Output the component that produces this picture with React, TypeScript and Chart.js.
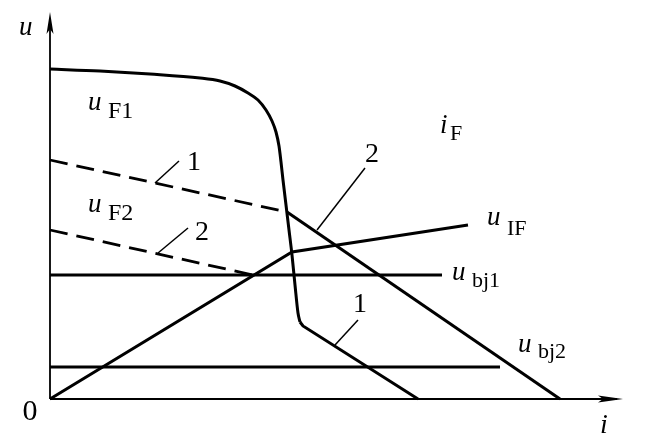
import React, { useEffect, useRef } from "react";
import { Chart, registerables } from "chart.js";

Chart.register(...registerables);

// Data in arbitrary units: i (current) on x, u (voltage) on y
const uF1Curve = [
  { x: 0, y: 330 }, { x: 50, y: 328 }, { x: 100, y: 325 }, { x: 150, y: 321 },
  { x: 170, y: 318 }, { x: 185, y: 313 }, { x: 198, y: 306 }, { x: 208, y: 299 },
  { x: 216, y: 289 }, { x: 222, y: 278 }, { x: 226, y: 267 }, { x: 229, y: 253 },
  { x: 231, y: 237 }, { x: 233, y: 219 }, { x: 236, y: 194 }, { x: 239, y: 169 },
  { x: 242, y: 144 }, { x: 245, y: 114 }, { x: 248, y: 86 }, { x: 250, y: 77 },
];
const uF1Tail = [{ x: 250, y: 77 }, { x: 253, y: 73 }, { x: 368, y: 0 }];
const uF2Dashed1 = [{ x: 0, y: 239 }, { x: 237, y: 187 }];
const uF2Dashed2 = [{ x: 0, y: 169 }, { x: 203, y: 124 }];
const load2 = [{ x: 237, y: 187 }, { x: 510, y: 0 }];
const uIF = [{ x: 0, y: 0 }, { x: 242, y: 147 }, { x: 418, y: 174 }];
const ubj1 = [{ x: 0, y: 124 }, { x: 392, y: 124 }];
const ubj2 = [{ x: 0, y: 32 }, { x: 450, y: 32 }];

const leaderLines = [
  [{ x: 129, y: 238 }, { x: 105, y: 216 }],
  [{ x: 138, y: 171 }, { x: 108, y: 146 }],
  [{ x: 315, y: 231 }, { x: 267, y: 169 }],
  [{ x: 308, y: 79 }, { x: 285, y: 54 }],
];

const X_MAX = 573;
const Y_MAX = 387;

type Piece = { t: string; x: number; y: number; size: number; italic?: boolean; align?: CanvasTextAlign };
const textPieces: Piece[] = [
  { t: "u", x: 38, y: 289, size: 27, italic: true },
  { t: "F1", x: 58, y: 281, size: 24 },
  { t: "u", x: 38, y: 187, size: 27, italic: true },
  { t: "F2", x: 58, y: 179, size: 24 },
  { t: "i", x: 390, y: 266, size: 27, italic: true },
  { t: "F", x: 400, y: 259, size: 22 },
  { t: "u", x: 437, y: 174, size: 27, italic: true },
  { t: "IF", x: 457, y: 164, size: 22 },
  { t: "u", x: 402, y: 119, size: 27, italic: true },
  { t: "bj1", x: 422, y: 112, size: 22 },
  { t: "u", x: 468, y: 47, size: 27, italic: true },
  { t: "bj2", x: 488, y: 41, size: 22 },
  { t: "1", x: 144, y: 229, size: 28, align: "center" },
  { t: "2", x: 152, y: 159, size: 28, align: "center" },
  { t: "2", x: 322, y: 237, size: 28, align: "center" },
  { t: "1", x: 310, y: 87, size: 28, align: "center" },
  { t: "0", x: -20, y: -21, size: 30, align: "center" },
  { t: "u", x: -31, y: 364, size: 27, italic: true },
  { t: "i", x: 550, y: -34, size: 28, italic: true },
];

const FONT = '"Liberation Serif", "DejaVu Serif", serif';

const overlay = {
  id: "overlay",
  afterDatasetsDraw(chart: any) {
    const ctx: CanvasRenderingContext2D = chart.ctx;
    const xs = chart.scales.x;
    const ys = chart.scales.y;
    const px = (v: number) => xs.getPixelForValue(v);
    const py = (v: number) => ys.getPixelForValue(v);
    ctx.save();
    ctx.strokeStyle = "#000";
    ctx.fillStyle = "#000";
    ctx.lineWidth = 1.8;
    const ox = px(0), oy = py(0);
    const tipY = py(Y_MAX), tipX = px(X_MAX);
    ctx.beginPath();
    ctx.moveTo(ox, oy);
    ctx.lineTo(ox, tipY + 6);
    ctx.moveTo(ox, oy);
    ctx.lineTo(tipX - 6, oy);
    ctx.stroke();
    ctx.beginPath();
    ctx.moveTo(ox, tipY);
    ctx.lineTo(ox + 3.5, tipY + 22);
    ctx.lineTo(ox, tipY + 17);
    ctx.lineTo(ox - 3.5, tipY + 22);
    ctx.closePath();
    ctx.fill();
    ctx.beginPath();
    ctx.moveTo(tipX, oy);
    ctx.lineTo(tipX - 25, oy - 3.5);
    ctx.lineTo(tipX - 20, oy);
    ctx.lineTo(tipX - 25, oy + 3.5);
    ctx.closePath();
    ctx.fill();
    ctx.textBaseline = "alphabetic";
    for (const p of textPieces) {
      ctx.font = `${p.italic ? "italic " : ""}${p.size}px ${FONT}`;
      ctx.textAlign = p.align || "left";
      ctx.fillText(p.t, px(p.x), py(p.y));
    }
    ctx.restore();
  },
};

export default function App() {
  const ref = useRef<HTMLCanvasElement | null>(null);
  useEffect(() => {
    let chart: Chart | null = null;
    let cancelled = false;
    const solid = (data: any[], extra: any = {}) => ({
      data,
      borderColor: "#000",
      borderWidth: 3,
      pointRadius: 0,
      showLine: true,
      fill: false,
      clip: false,
      tension: 0,
      ...extra,
    });
    const build = () => {
      if (cancelled || !ref.current) return;
      chart = new Chart(ref.current, {
        type: "scatter",
        data: {
          datasets: [
            solid(uF1Curve, { cubicInterpolationMode: "monotone" }),
            solid(uF1Tail),
            solid(uF2Dashed1, { borderDash: [18, 9], borderWidth: 2.8 }),
            solid(uF2Dashed2, { borderDash: [18, 9], borderWidth: 2.8 }),
            solid(load2),
            solid(uIF),
            solid(ubj1),
            solid(ubj2),
            ...leaderLines.map((l) => solid(l, { borderWidth: 1.5 })),
          ],
        },
        options: {
          animation: false,
          responsive: false,
          layout: { padding: { left: 50, right: 25, top: 12, bottom: 44 } },
          plugins: { legend: { display: false }, tooltip: { enabled: false } },
          events: [],
          scales: {
            x: { type: "linear", min: 0, max: X_MAX, display: false },
            y: { type: "linear", min: 0, max: Y_MAX, display: false },
          },
        },
        plugins: [overlay],
      });
    };
    const fonts: any = (document as any).fonts;
    if (fonts && fonts.load) {
      Promise.all([
        fonts.load(`26px "Liberation Serif"`),
        fonts.load(`italic 26px "Liberation Serif"`),
      ]).then(build, build);
    } else {
      build();
    }
    return () => {
      cancelled = true;
      if (chart) chart.destroy();
    };
  }, []);
  return (
    <div style={{ position: "fixed", left: 0, top: 0, width: 648, height: 443, background: "#fff" }}>
      <canvas ref={ref} width={648} height={443} style={{ display: "block" }} />
    </div>
  );
}
